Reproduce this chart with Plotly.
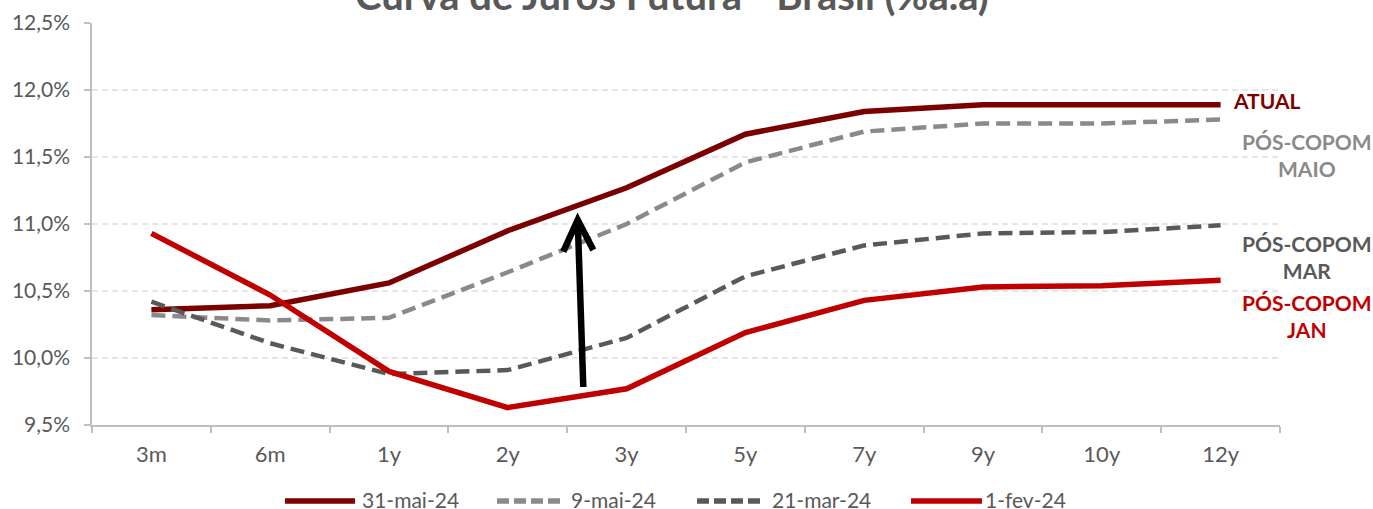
import plotly.graph_objects as go

# Vértices da curva de juros futura
tenors = ["3m", "6m", "1y", "2y", "3y", "5y", "7y", "9y", "10y", "12y"]

mai31 = [10.36, 10.39, 10.56, 10.95, 11.27, 11.67, 11.84, 11.89, 11.89, 11.89]
mai9 = [10.32, 10.28, 10.30, 10.64, 11.00, 11.46, 11.69, 11.75, 11.75, 11.78]
mar21 = [10.42, 10.11, 9.88, 9.91, 10.15, 10.61, 10.84, 10.93, 10.94, 10.99]
fev1 = [10.93, 10.47, 9.90, 9.63, 9.77, 10.19, 10.43, 10.53, 10.54, 10.58]

series_names = ["31-mai-24", "9-mai-24", "21-mar-24", "1-fev-24"]

y_ticks = [9.5, 10.0, 10.5, 11.0, 11.5, 12.0, 12.5]
y_tick_labels = ["9,5%", "10,0%", "10,5%", "11,0%", "11,5%", "12,0%", "12,5%"]

TITLE = "Curva de Juros Futura - Brasil (%a.a)"

FONT = "Lato, 'Open Sans', sans-serif"
TXT = "#595959"

styles = [
    dict(color="#7B0000", width=5.5, dash="solid"),
    dict(color="#8A8A8A", width=4.5, dash="14px,7px"),
    dict(color="#595959", width=4.5, dash="14px,7px"),
    dict(color="#C00000", width=5.5, dash="solid"),
]

fig = go.Figure()
for name, vals, st in zip(series_names, [mai31, mai9, mar21, fev1], styles):
    fig.add_trace(go.Scatter(
        x=tenors, y=vals, mode="lines", name=name,
        line=dict(color=st["color"], width=st["width"], dash=st["dash"]),
        showlegend=False, hoverinfo="x+y+name",
    ))

# Plot area geometry (pixels) used for paper-coordinate helpers
W, H = 1373, 509
L, R, T, B = 92, 93, 23, 84
PW, PH = W - L - R, H - T - B


def px(xp):
    return (xp - L) / PW


def py(yp):
    return (H - B - yp) / PH


shapes = []
annotations = []

# Arrow showing the upward shift of the curve
tail = (583.3, 387)
tip = (577.7, 220)
arm_l = (563.3, 251.7)
arm_r = (593.3, 250.0)
path = (f"M {px(tail[0])} {py(tail[1])} L {px(tip[0])} {py(tip[1])} "
        f"M {px(arm_l[0])} {py(arm_l[1])} L {px(tip[0])} {py(tip[1])} "
        f"L {px(arm_r[0])} {py(arm_r[1])}")
shapes.append(dict(type="path", xref="paper", yref="paper", path=path,
                   line=dict(color="black", width=6.5)))

# Manual legend: line samples and labels below the chart
leg_y = py(499)
leg_items = [(285, 355, 360), (497, 564, 569), (697, 765, 770), (911, 982, 983)]
for (x0, x1, xt), name, st in zip(leg_items, series_names, styles):
    shapes.append(dict(type="line", xref="paper", yref="paper",
                       x0=px(x0), x1=px(x1), y0=py(501), y1=py(501),
                       line=dict(color=st["color"], width=5.5,
                                 dash="solid" if st["dash"] == "solid" else "12px,5px")))
    annotations.append(dict(xref="paper", yref="paper", x=px(xt), y=leg_y,
                            xanchor="left", yanchor="middle", showarrow=False,
                            text=name, font=dict(family=FONT, size=21, color=TXT)))

# Label at the end of the current curve
annotations.append(dict(x=tenors[-1], y=mai31[-1], xref="x", yref="y",
                        xanchor="left", yanchor="middle", xshift=10, yshift=4,
                        showarrow=False, text="<b>ATUAL</b>",
                        font=dict(family=FONT, size=21, color="#7B0000")))

side_labels = [
    ("<b>PÓS-COPOM<br>MAIO</b>", 155, "#8A8A8A"),
    ("<b>PÓS-COPOM<br>MAR</b>", 257, "#595959"),
    ("<b>PÓS-COPOM<br>JAN</b>", 316, "#C00000"),
]
for text, yc, col in side_labels:
    annotations.append(dict(xref="paper", yref="paper", x=px(1307), y=py(yc),
                            xanchor="center", yanchor="middle", showarrow=False,
                            text=text, align="center",
                            font=dict(family=FONT, size=21, color=col)))

# Title (partly above the visible area)
annotations.append(dict(xref="paper", yref="paper", x=px(672), y=py(21),
                        xanchor="center", yanchor="bottom", showarrow=False,
                        text=f"<b>{TITLE}</b>",
                        font=dict(family=FONT, size=40, color=TXT)))

fig.update_layout(
    width=W, height=H,
    margin=dict(l=L, r=R, t=T, b=B, pad=0, autoexpand=False),
    paper_bgcolor="white", plot_bgcolor="white",
    font=dict(family=FONT, size=21, color=TXT),
    shapes=shapes, annotations=annotations,
    showlegend=False,
)

fig.update_xaxes(
    type="category", range=[-0.5, len(tenors) - 0.5],
    showgrid=False, zeroline=False, automargin=False,
    showline=True, linecolor="#BFBFBF", linewidth=1.5,
    ticks="outside", ticklen=6, tickcolor="#BFBFBF", tickwidth=1.5,
    tickson="boundaries", ticklabelstandoff=9,
    tickfont=dict(family=FONT, size=22, color=TXT),
)

fig.update_yaxes(
    range=[9.5, 12.5], tickvals=y_ticks, ticktext=y_tick_labels,
    showgrid=True, gridcolor="#E6E6E6", gridwidth=1.5, griddash="6px,4px",
    zeroline=False, showline=True, linecolor="#BFBFBF", linewidth=1.5,
    automargin=False,
    ticks="outside", ticklen=6, tickcolor="#BFBFBF", tickwidth=1.5,
    ticklabelstandoff=10,
    tickfont=dict(family=FONT, size=21, color=TXT),
)

fig.write_html("out.html")
